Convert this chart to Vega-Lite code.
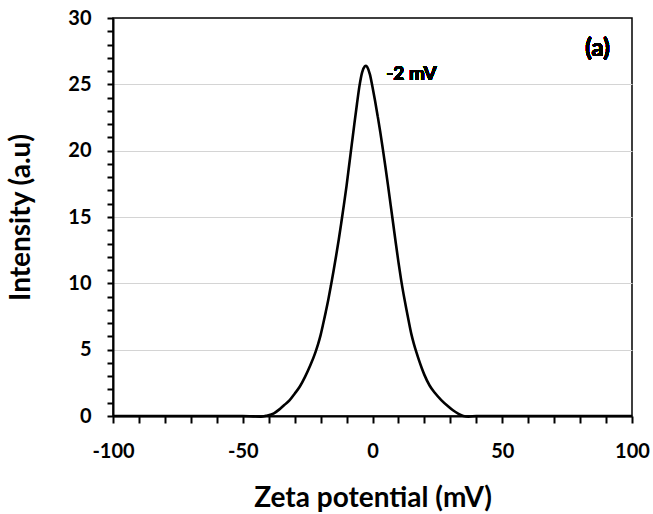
{
  "$schema": "https://vega.github.io/schema/vega-lite/v6.json",
  "width": 519,
  "height": 398,
  "autosize": {"type": "none"},
  "padding": {"left": 113, "top": 18, "right": 21, "bottom": 98},
  "background": "white",
  "config": {
    "view": {"stroke": "black", "strokeWidth": 1.5},
    "font": "Lato",
    "axis": {
      "domainColor": "black",
      "domainWidth": 2,
      "tickColor": "black",
      "tickWidth": 2,
      "labelFont": "Lato",
      "labelFontWeight": "bold",
      "labelFontSize": 20,
      "labelColor": "black",
      "titleFont": "Lato",
      "titleFontWeight": "bold",
      "titleFontSize": 28,
      "titleColor": "black",
      "gridColor": "#d4d4d4",
      "gridWidth": 1.2
    }
  },
  "data": {
    "values": [
      {"zeta": -100, "intensity": 0},
      {"zeta": -80, "intensity": 0},
      {"zeta": -60, "intensity": 0},
      {"zeta": -50, "intensity": 0},
      {"zeta": -46, "intensity": -0.03},
      {"zeta": -43, "intensity": -0.05},
      {"zeta": -41, "intensity": 0.02},
      {"zeta": -38, "intensity": 0.2},
      {"zeta": -36, "intensity": 0.48},
      {"zeta": -34, "intensity": 0.83},
      {"zeta": -32, "intensity": 1.17},
      {"zeta": -30, "intensity": 1.68},
      {"zeta": -28, "intensity": 2.22},
      {"zeta": -26, "intensity": 2.95},
      {"zeta": -24, "intensity": 3.8},
      {"zeta": -22, "intensity": 4.8},
      {"zeta": -21, "intensity": 5.4},
      {"zeta": -20, "intensity": 6.1},
      {"zeta": -19, "intensity": 6.95},
      {"zeta": -18, "intensity": 7.85},
      {"zeta": -17, "intensity": 8.8},
      {"zeta": -16, "intensity": 9.85},
      {"zeta": -15, "intensity": 10.95},
      {"zeta": -14, "intensity": 12.1},
      {"zeta": -13, "intensity": 13.3},
      {"zeta": -12, "intensity": 14.6},
      {"zeta": -11, "intensity": 15.95},
      {"zeta": -10, "intensity": 17.35},
      {"zeta": -9, "intensity": 18.9},
      {"zeta": -8, "intensity": 20.45},
      {"zeta": -7, "intensity": 22.0},
      {"zeta": -6, "intensity": 23.5},
      {"zeta": -5, "intensity": 24.9},
      {"zeta": -4, "intensity": 25.9},
      {"zeta": -3, "intensity": 26.35},
      {"zeta": -2.5, "intensity": 26.4},
      {"zeta": -2, "intensity": 26.3},
      {"zeta": -1, "intensity": 25.75},
      {"zeta": 0, "intensity": 24.8},
      {"zeta": 1, "intensity": 23.75},
      {"zeta": 2, "intensity": 22.6},
      {"zeta": 3, "intensity": 21.4},
      {"zeta": 4, "intensity": 20.1},
      {"zeta": 5, "intensity": 18.75},
      {"zeta": 6, "intensity": 17.35},
      {"zeta": 7, "intensity": 15.9},
      {"zeta": 8, "intensity": 14.45},
      {"zeta": 9, "intensity": 13.0},
      {"zeta": 10, "intensity": 11.6},
      {"zeta": 11, "intensity": 10.3},
      {"zeta": 12, "intensity": 9.15},
      {"zeta": 13, "intensity": 8.1},
      {"zeta": 14, "intensity": 7.1},
      {"zeta": 15, "intensity": 6.15},
      {"zeta": 16, "intensity": 5.4},
      {"zeta": 17, "intensity": 4.75},
      {"zeta": 18, "intensity": 4.15},
      {"zeta": 19, "intensity": 3.6},
      {"zeta": 20, "intensity": 3.1},
      {"zeta": 22, "intensity": 2.3},
      {"zeta": 24, "intensity": 1.75},
      {"zeta": 26.5, "intensity": 1.2},
      {"zeta": 29, "intensity": 0.75},
      {"zeta": 31, "intensity": 0.43},
      {"zeta": 33, "intensity": 0.18},
      {"zeta": 35, "intensity": 0.0},
      {"zeta": 37, "intensity": -0.05},
      {"zeta": 40, "intensity": 0},
      {"zeta": 50, "intensity": 0},
      {"zeta": 70, "intensity": 0},
      {"zeta": 100, "intensity": 0}
    ]
  },
  "layer": [
    {
      "mark": {"type": "line", "color": "black", "strokeWidth": 2.6, "interpolate": "monotone", "clip": false},
      "encoding": {
        "x": {
          "field": "zeta",
          "type": "quantitative",
          "scale": {"domain": [-100, 100], "nice": false},
          "axis": {
            "title": "Zeta potential (mV)",
            "values": [-100, -90, -80, -70, -60, -50, -40, -30, -20, -10, 0, 10, 20, 30, 40, 50, 60, 70, 80, 90, 100],
            "tickCount": 200,
            "labelExpr": "datum.value % 50 === 0 ? toString(datum.value) : ''",
            "tickSize": 7,
            "labelPadding": 18,
            "titlePadding": 23,
            "grid": false,
            "labelFlush": false,
            "labelOverlap": false
          }
        },
        "y": {
          "field": "intensity",
          "type": "quantitative",
          "scale": {"domain": [0, 30], "nice": false},
          "axis": {
            "title": "Intensity (a.u)",
            "values": [0, 1, 2, 3, 4, 5, 6, 7, 8, 9, 10, 11, 12, 13, 14, 15, 16, 17, 18, 19, 20, 21, 22, 23, 24, 25, 26, 27, 28, 29, 30],
            "tickCount": 200,
            "labelExpr": "datum.value % 5 === 0 ? toString(datum.value) : ''",
            "tickSize": 6,
            "labelPadding": 16,
            "titlePadding": 32,
            "grid": true,
            "gridOpacity": {"condition": {"test": "datum.value % 5 === 0 && datum.value > 0 && datum.value < 30", "value": 1}, "value": 0},
            "labelFlush": false,
            "labelOverlap": false
          }
        }
      }
    },
    {
      "mark": {"type": "text", "text": "-2 mV", "font": "Lato", "fontWeight": "bold", "fontSize": 19, "align": "left", "baseline": "middle", "color": "black"},
      "encoding": {
        "x": {"datum": 5.3},
        "y": {"datum": 25.8}
      }
    },
    {
      "mark": {"type": "text", "text": "(a)", "font": "Lato", "fontWeight": "bold", "fontSize": 24, "align": "center", "baseline": "middle", "color": "black"},
      "encoding": {
        "x": {"datum": 86.7},
        "y": {"datum": 27.7}
      }
    }
  ]
}
